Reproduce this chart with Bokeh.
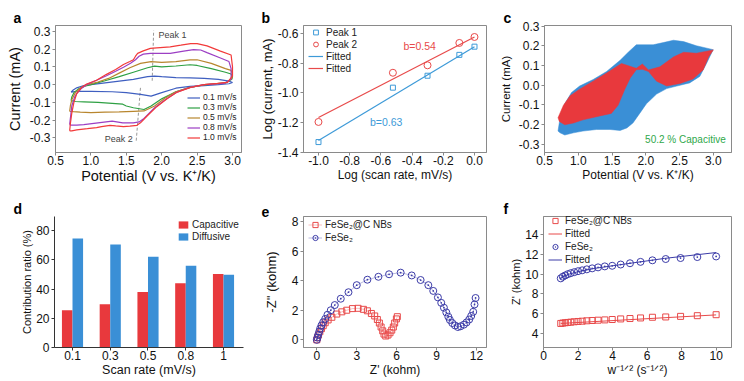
from bokeh.plotting import figure
from bokeh.layouts import row, column
from bokeh.models import (Range1d, Label, Legend, LegendItem, FixedTicker, PrintfTickFormatter,
                          ColumnDataSource)
from bokeh.transform import dodge
from bokeh.embed import file_html
from bokeh.resources import INLINE

FONT = "Liberation Sans"
GRAY = "#8a8a8a"

# ---------------- panel a: CV curves ----------------
cv_labels = ["0.1 mV/s", "0.3 mV/s", "0.5 mV/s", "0.8 mV/s", "1.0 mV/s"]
cv_colors = ["#3f5fc0", "#2ea043", "#b8862e", "#9c3fc4", "#f23a3a"]
cv01_x = [0.72,0.75,0.8,0.9,1.0,1.2,1.4,1.6,1.8,1.9,2.0,2.2,2.4,2.6,2.8,2.95,3.0,
          2.95,2.8,2.6,2.4,2.2,2.0,1.85,1.7,1.5,1.3,1.0,0.8,0.72]
cv01_y = [-0.042,-0.03,-0.018,-0.005,0.0,0.01,0.02,0.03,0.045,0.048,0.045,0.04,0.038,0.035,0.03,0.02,0.012,
          0.005,0.0,-0.005,-0.01,-0.02,-0.045,-0.065,-0.055,-0.045,-0.04,-0.038,-0.038,-0.042]
cv03_x = [0.72,0.73,0.76,0.82,0.9,1.0,1.2,1.4,1.6,1.8,1.9,2.0,2.2,2.4,2.5,2.7,2.9,2.98,3.0,2.99,
          2.9,2.6,2.4,2.2,2.0,1.85,1.75,1.6,1.5,1.45,1.3,1.1,0.9,0.78,0.72]
cv03_y = [-0.09,-0.07,-0.045,-0.025,-0.01,0.0,0.022,0.045,0.07,0.095,0.104,0.1,0.105,0.112,0.108,0.09,0.07,0.06,0.045,0.03,
          0.01,-0.002,-0.015,-0.04,-0.08,-0.12,-0.14,-0.13,-0.12,-0.11,-0.105,-0.1,-0.097,-0.095,-0.09]
cv05_x = [0.70,0.71,0.73,0.78,0.85,0.95,1.1,1.25,1.4,1.55,1.7,1.85,2.0,2.2,2.4,2.5,2.7,2.9,2.98,3.0,2.99,
          2.9,2.6,2.4,2.2,2.05,1.9,1.75,1.6,1.4,1.2,1.0,0.85,0.75,0.70]
cv05_y = [-0.15,-0.12,-0.085,-0.045,-0.02,0.0,0.015,0.035,0.065,0.095,0.12,0.13,0.125,0.13,0.14,0.14,0.12,0.09,0.08,0.06,0.035,
          0.01,0.0,-0.015,-0.04,-0.075,-0.12,-0.148,-0.15,-0.153,-0.155,-0.158,-0.155,-0.152,-0.15]
cv08_x = [0.70,0.71,0.73,0.77,0.80,0.87,0.94,1.08,1.22,1.35,1.46,1.56,1.63,1.68,1.74,1.84,1.93,2.12,2.31,2.45,2.55,2.64,2.83,2.95,2.98,2.98,
          2.88,2.60,2.40,2.20,2.05,1.90,1.75,1.68,1.60,1.45,1.30,1.10,0.90,0.80,0.72,0.70]
cv08_y = [-0.225,-0.19,-0.12,-0.07,-0.05,-0.02,0.0,0.025,0.05,0.075,0.098,0.12,0.14,0.16,0.172,0.176,0.176,0.176,0.189,0.197,0.195,0.18,0.15,0.13,0.09,0.03,
          0.007,0.0,-0.015,-0.045,-0.085,-0.13,-0.19,-0.21,-0.215,-0.215,-0.205,-0.215,-0.225,-0.228,-0.228,-0.225]
cv10_x = [0.70,0.71,0.73,0.76,0.80,0.87,0.94,1.08,1.22,1.35,1.46,1.55,1.60,1.63,1.66,1.74,1.84,1.93,2.12,2.27,2.41,2.50,2.64,2.83,2.98,3.0,3.0,
          2.93,2.79,2.60,2.41,2.22,2.08,1.93,1.79,1.70,1.65,1.55,1.46,1.35,1.27,1.15,1.08,0.95,0.89,0.80,0.73,0.70]
cv10_y = [-0.26,-0.22,-0.16,-0.10,-0.05,-0.015,0.004,0.025,0.058,0.085,0.113,0.13,0.14,0.16,0.176,0.19,0.204,0.207,0.213,0.222,0.231,0.231,0.218,0.189,0.167,0.10,0.05,
          0.013,0.007,0.0,-0.015,-0.042,-0.078,-0.124,-0.178,-0.215,-0.229,-0.234,-0.236,-0.232,-0.229,-0.236,-0.242,-0.248,-0.25,-0.255,-0.26,-0.26]
cv_x = [cv01_x, cv03_x, cv05_x, cv08_x, cv10_x]
cv_y = [cv01_y, cv03_y, cv05_y, cv08_y, cv10_y]
peak1_x = [1.866, 1.886]
peak1_y = [0.022, 0.305]
peak2_x = [1.70, 1.64]
peak2_y = [-0.018, -0.317]

# ---------------- panel b: log-log ----------------
log_rate = [-1.0, -0.523, -0.301, -0.097, 0.0]
peak1_log_i = [-1.33, -0.965, -0.885, -0.745, -0.69]
peak2_log_i = [-1.195, -0.865, -0.815, -0.665, -0.625]
fit1_x = [-1.0, 0.0]
fit1_y = [-1.32, -0.69]
fit2_x = [-1.0, 0.0]
fit2_y = [-1.165, -0.625]

# ---------------- panel c: capacitive contribution ----------------
total_x = [0.70,0.73,0.80,0.90,1.02,1.22,1.42,1.62,1.74,1.86,2.11,2.26,2.41,2.56,2.75,3.0,
           2.98,2.90,2.80,2.65,2.46,2.31,2.16,2.01,1.91,1.81,1.72,1.62,1.47,1.27,1.07,0.93,0.80,0.73]
total_y = [-0.234,-0.169,-0.095,-0.038,-0.005,0.028,0.069,0.126,0.167,0.205,0.205,0.216,0.228,0.221,0.200,0.180,
           0.167,0.110,0.044,0.011,-0.005,-0.018,-0.046,-0.095,-0.144,-0.193,-0.218,-0.231,-0.226,-0.226,-0.234,-0.243,-0.254,-0.243]
cap_x = [0.70,0.78,0.88,1.02,1.22,1.42,1.64,1.86,1.95,2.04,2.21,2.41,2.56,2.75,3.0,
         2.93,2.85,2.70,2.51,2.31,2.16,2.04,1.95,1.86,1.77,1.69,1.59,1.49,1.32,1.07,0.93,0.80,0.72]
cap_y = [-0.166,-0.103,-0.054,-0.021,0.020,0.061,0.110,0.085,0.107,0.077,0.093,0.143,0.167,0.162,0.179,
         0.143,0.077,0.031,0.008,-0.005,0.020,0.069,0.080,0.078,0.036,-0.021,-0.103,-0.144,-0.157,-0.177,-0.193,-0.202,-0.185]
cap_text = "50.2 % Capacitive"

# ---------------- panel d: contribution bars ----------------
rates = ["0.1", "0.3", "0.5", "0.8", "1"]
capacitive = [25.5, 29.5, 38.0, 44.0, 50.2]
diffusive = [74.5, 70.5, 62.0, 56.0, 49.8]

# ---------------- panel e: Nyquist ----------------
nb_zre = [0,0.05,0.13,0.23,0.35,0.48,0.63,0.85,1.13,1.5,1.88,2.25,2.68,3.1,3.5,3.8,4.1,4.35,4.55,4.7,4.83,4.95,5.05,5.18,5.35,5.5,5.63,5.75,5.85,5.98,6.05]
nb_zim = [0,0.15,0.33,0.55,0.76,0.96,1.16,1.35,1.53,1.75,1.9,2.01,2.12,2.14,2.07,1.97,1.79,1.62,1.38,1.14,0.87,0.61,0.39,0.26,0.33,0.48,0.66,0.87,1.14,1.42,1.57]
fe_zre = [0,0.05,0.1,0.18,0.25,0.35,0.48,0.63,0.8,1.05,1.35,1.8,2.38,3.0,3.8,4.63,5.43,6.3,7.13,7.8,8.38,8.75,9.1,9.35,9.55,9.73,9.88,10.0,10.18,10.38,10.6,10.8,11.05,11.25,11.45,11.6,11.75,11.85,11.93]
fe_zim = [0,0.15,0.33,0.55,0.76,0.98,1.2,1.42,1.7,2.01,2.36,2.79,3.23,3.71,4.08,4.28,4.45,4.56,4.37,4.06,3.71,3.32,2.88,2.51,2.18,1.86,1.57,1.35,1.14,0.98,0.87,0.92,1.03,1.18,1.38,1.62,1.9,2.4,2.84]

# ---------------- panel f: Z' vs w^-1/2 ----------------
w_inv_sqrt = [1.0,1.12,1.26,1.41,1.58,1.78,2.0,2.24,2.51,2.82,3.16,3.55,3.98,4.47,5.01,5.62,6.31,7.08,7.94,8.91,10.0]
nb_zre_f = [4.98,5.02,5.05,5.08,5.11,5.15,5.18,5.21,5.25,5.28,5.31,5.34,5.38,5.44,5.48,5.54,5.61,5.64,5.70,5.77,5.87]
fe_zre_f = [9.57,9.74,9.87,10.0,10.1,10.2,10.3,10.39,10.49,10.59,10.69,10.79,10.85,10.98,11.11,11.25,11.41,11.54,11.64,11.74,11.8]
nb_fit_x = [1.0, 10.0]
nb_fit_y = [4.98, 5.85]
fe_fit_x = [1.0, 1.5, 2.0, 3.0, 4.0, 5.0, 6.0, 7.0, 8.0, 9.0, 10.0]
fe_fit_y = [9.65, 10.0, 10.25, 10.6, 10.85, 11.1, 11.35, 11.6, 11.8, 12.0, 12.2]

RED_B = "#e84a4a"
BLUE_B = "#3d9ad8"
RED_D = "#e8393d"
BLUE_D = "#3a8fd6"
RED_E = "#e84a4a"
NAVY_E = "#3c3ca8"


def make_fig(w, h, bl, br, bt, bb, xr, yr, boxed=True, xlab="12px", ylab="12px", ylab_standoff=2):
    p = figure(width=w, height=h, min_border_left=bl, min_border_right=br,
               min_border_top=bt, min_border_bottom=bb, x_range=xr, y_range=yr,
               output_backend="svg", toolbar_location=None, tools="")
    p.grid.visible = False
    p.background_fill_color = "white"
    p.border_fill_color = "white"
    for ax in p.axis:
        ax.major_label_text_font = FONT
        ax.major_label_text_font_size = "12px"
        ax.major_label_text_color = "#111111"
        ax.axis_label_text_font = FONT
        ax.axis_label_text_font_style = "normal"
        ax.axis_label_text_color = "#111111"
        ax.major_tick_in = 0
        ax.major_tick_out = 3
        ax.minor_tick_in = 0
        ax.minor_tick_out = 0
        ax.axis_line_color = GRAY
        ax.major_tick_line_color = GRAY
    p.xaxis.axis_label_text_font_size = xlab
    p.yaxis.axis_label_text_font_size = ylab
    p.xaxis.major_label_standoff = 0
    p.xaxis.axis_label_standoff = 0
    p.yaxis.major_label_standoff = 2
    p.yaxis.axis_label_standoff = ylab_standoff
    if boxed:
        p.outline_line_color = GRAY
        p.outline_line_width = 1
        p.outline_line_alpha = 1
    else:
        p.outline_line_color = None
        p.xaxis.axis_line_color = "#333333"
        p.yaxis.axis_line_color = "#333333"
        p.xaxis.major_tick_line_color = "#333333"
        p.yaxis.major_tick_line_color = "#333333"
    return p


def letter(p, t, offset):
    p.title.text = t
    p.title.align = "left"
    p.title.offset = offset
    p.title.standoff = 0
    p.title.text_font = FONT
    p.title.text_font_size = "14px"
    p.title.text_font_style = "bold"
    p.title.text_color = "black"


def add_legend(p, items, loc, size, lh, gw, gh, standoff=3, lw=20):
    lg = Legend(items=items, location=loc, padding=0, margin=0, spacing=0,
                border_line_color=None, background_fill_alpha=0,
                label_text_font=FONT, label_text_font_size=size, label_text_color="#222222",
                label_height=lh, label_width=lw, glyph_height=gh, glyph_width=gw, label_standoff=standoff)
    p.add_layout(lg)


one_dec = PrintfTickFormatter(format="%.1f")

# ---------------- a ----------------
pa = make_fig(248, 186, 55, 7, 23, 33, Range1d(0.5, 3.127), Range1d(-0.382, 0.333),
              xlab="14.5px", ylab="14.5px", ylab_standoff=4)
pa.xaxis.ticker = FixedTicker(ticks=[0.5, 1.0, 1.5, 2.0, 2.5, 3.0])
pa.yaxis.ticker = FixedTicker(ticks=[-0.3, -0.2, -0.1, 0.0, 0.1, 0.2, 0.3])
pa.xaxis.formatter = one_dec
pa.yaxis.formatter = one_dec
pa.xaxis.axis_label = "Potential (V vs. K⁺/K)"
pa.yaxis.axis_label = "Current (mA)"
pa.line(peak1_x, peak1_y, line_color="#999999", line_dash="3 2", line_width=1)
pa.line(peak2_x, peak2_y, line_color="#999999", line_dash="3 2", line_width=1)
items = []
for xs, ys, c, lab in zip(cv_x, cv_y, cv_colors, cv_labels):
    r = pa.line(xs, ys, line_color=c, line_width=1.2)
    items.append(LegendItem(label=lab, renderers=[r]))
add_legend(pa, items, (132, 10), "8.5px", 9, 13, 9, lw=38)
pa.add_layout(Label(x=1.955, y=0.278, text="Peak 1", text_font=FONT, text_font_size="9px",
                    text_color="#444444", text_baseline="middle"))
pa.add_layout(Label(x=1.59, y=-0.306, text="Peak 2", text_font=FONT, text_font_size="9px",
                    text_color="#444444", text_baseline="middle", text_align="right"))
letter(pa, "a", -42)

# ---------------- b ----------------
pb = make_fig(242, 186, 55, 4, 23, 33, Range1d(-1.096, 0.077), Range1d(-1.4, -0.548),
              xlab="12px", ylab="13px", ylab_standoff=0)
pb.xaxis.ticker = FixedTicker(ticks=[-1.0, -0.8, -0.6, -0.4, -0.2, 0.0])
pb.yaxis.ticker = FixedTicker(ticks=[-1.4, -1.2, -1.0, -0.8, -0.6])
pb.xaxis.formatter = one_dec
pb.yaxis.formatter = one_dec
pb.xaxis.axis_label = "Log (scan rate, mV/s)"
pb.yaxis.axis_label = "Log (current, mA)"
rf1 = pb.line(fit1_x, fit1_y, line_color=BLUE_B, line_width=1.2)
rf2 = pb.line(fit2_x, fit2_y, line_color=RED_B, line_width=1.2)
rp1 = pb.scatter(log_rate, peak1_log_i, marker="square", size=5, line_color=BLUE_B,
                 fill_color=None, line_width=1)
rp2 = pb.scatter(log_rate, peak2_log_i, marker="circle", size=7, line_color=RED_B,
                 fill_color=None, line_width=1)
add_legend(pb, [LegendItem(label="Peak 1", renderers=[rp1]), LegendItem(label="Peak 2", renderers=[rp2]),
                LegendItem(label="Fitted", renderers=[rf1]), LegendItem(label="Fitted", renderers=[rf2])],
           (5, 78), "10px", 12, 15, 12, lw=32)
pb.add_layout(Label(x=-0.455, y=-0.683, text="b=0.54", text_font=FONT, text_font_size="10.5px",
                    text_color=RED_B, text_baseline="middle"))
pb.add_layout(Label(x=-0.67, y=-1.193, text="b=0.63", text_font=FONT, text_font_size="10.5px",
                    text_color=BLUE_B, text_baseline="middle"))
letter(pb, "b", -42)

# ---------------- c ----------------
pc = make_fig(252, 186, 54, 11, 25, 31, Range1d(0.5, 3.27), Range1d(-0.343, 0.303),
              xlab="12px", ylab="11.5px", ylab_standoff=4)
pc.xaxis.ticker = FixedTicker(ticks=[0.5, 1.0, 1.5, 2.0, 2.5, 3.0])
pc.yaxis.ticker = FixedTicker(ticks=[-0.3, -0.2, -0.1, 0.0, 0.1, 0.2, 0.3])
pc.xaxis.formatter = one_dec
pc.yaxis.formatter = one_dec
pc.xaxis.axis_label = "Potential (V vs. K⁺/K)"
pc.yaxis.axis_label = "Current (mA)"
pc.patch(total_x, total_y, fill_color=BLUE_D, line_color=BLUE_D, line_width=0.5)
pc.patch(cap_x, cap_y, fill_color=RED_D, line_color=RED_D, line_width=0.5)
pc.add_layout(Label(x=1.99, y=-0.276, text=cap_text, text_font=FONT, text_font_size="10px",
                    text_color="#2fa84a", text_baseline="middle"))
letter(pc, "c", -41)

# ---------------- d ----------------
rate_pos = list(range(len(rates)))
bar_src = ColumnDataSource(dict(x=rate_pos, cap=capacitive, dif=diffusive))
pd_ = make_fig(248, 193, 54, 5, 30, 32, Range1d(-0.477, 4.53), Range1d(0, 89.6), boxed=False,
               xlab="12.5px", ylab="11px", ylab_standoff=0)
pd_.xaxis.ticker = FixedTicker(ticks=rate_pos)
pd_.xaxis.major_label_overrides = {i: r for i, r in zip(rate_pos, rates)}
pd_.yaxis.ticker = FixedTicker(ticks=[0, 20, 40, 60, 80])
pd_.xaxis.axis_label = "Scan rate (mV/s)"
pd_.yaxis.axis_label = "Contribution ratio (%)"
rc = pd_.vbar(x=dodge("x", -0.14), top="cap", width=0.28, source=bar_src,
              fill_color=RED_D, line_color=None)
rd = pd_.vbar(x=dodge("x", 0.14), top="dif", width=0.28, source=bar_src,
              fill_color=BLUE_D, line_color=None)
add_legend(pd_, [LegendItem(label="Capacitive", renderers=[rc]), LegendItem(label="Diffusive", renderers=[rd])],
           (123, 105), "10px", 12, 12, 9, lw=56)
letter(pd_, "d", -41)

# ---------------- e ----------------
pe = make_fig(242, 193, 55, 4, 24, 32, Range1d(-1.0, 12.75), Range1d(-0.52, 8.37),
              xlab="12px", ylab="13px", ylab_standoff=10)
pe.xaxis.ticker = FixedTicker(ticks=[0, 3, 6, 9, 12])
pe.yaxis.ticker = FixedTicker(ticks=[0, 2, 4, 6, 8])
pe.xaxis.axis_label = "Z' (kohm)"
pe.yaxis.axis_label = "-Z'' (kohm)"
l1 = pe.line(nb_zre, nb_zim, line_color=RED_E, line_width=0.6, line_alpha=0.6)
s1 = pe.scatter(nb_zre, nb_zim, marker="square", size=6, line_color=RED_E, fill_color=None, line_width=1)
l2 = pe.line(fe_zre, fe_zim, line_color=NAVY_E, line_width=0.6, line_alpha=0.6)
s2 = pe.scatter(fe_zre, fe_zim, marker="circle_dot", size=7, line_color=NAVY_E, fill_color=None, line_width=1)
add_legend(pe, [LegendItem(label="FeSe₂@C NBs", renderers=[l1, s1]), LegendItem(label="FeSe₂", renderers=[l2, s2])],
           (5, 103), "10px", 13, 14, 13, lw=60)
letter(pe, "e", -42)

# ---------------- f ----------------
pf = make_fig(252, 193, 53, 11, 28, 31, Range1d(0, 10.89), Range1d(2.53, 15.87),
              xlab="12px", ylab="11px", ylab_standoff=0)
pf.xaxis.ticker = FixedTicker(ticks=[0, 2, 4, 6, 8, 10])
pf.yaxis.ticker = FixedTicker(ticks=[4, 6, 8, 10, 12, 14])
pf.xaxis.axis_label = "w⁻¹ᐟ² (s⁻¹ᐟ²)"
pf.yaxis.axis_label = "Z' (kohm)"
f1 = pf.line(nb_fit_x, nb_fit_y, line_color=RED_E, line_width=1)
fs1 = pf.scatter(w_inv_sqrt, nb_zre_f, marker="square", size=6, line_color=RED_E, fill_color=None, line_width=1)
f2 = pf.line(fe_fit_x, fe_fit_y, line_color=NAVY_E, line_width=1)
fs2 = pf.scatter(w_inv_sqrt, fe_zre_f, marker="circle_dot", size=7, line_color=NAVY_E, fill_color=None, line_width=1)
add_legend(pf, [LegendItem(label="FeSe₂@C NBs", renderers=[fs1]), LegendItem(label="Fitted", renderers=[f1]),
                LegendItem(label="FeSe₂", renderers=[fs2]), LegendItem(label="Fitted", renderers=[f2])],
           (5, 81), "10px", 13, 14, 13, lw=60)
letter(pf, "f", -40)

layout = column(row(pa, pb, pc), row(pd_, pe, pf))
open("out.html", "w").write(file_html(layout, INLINE))
